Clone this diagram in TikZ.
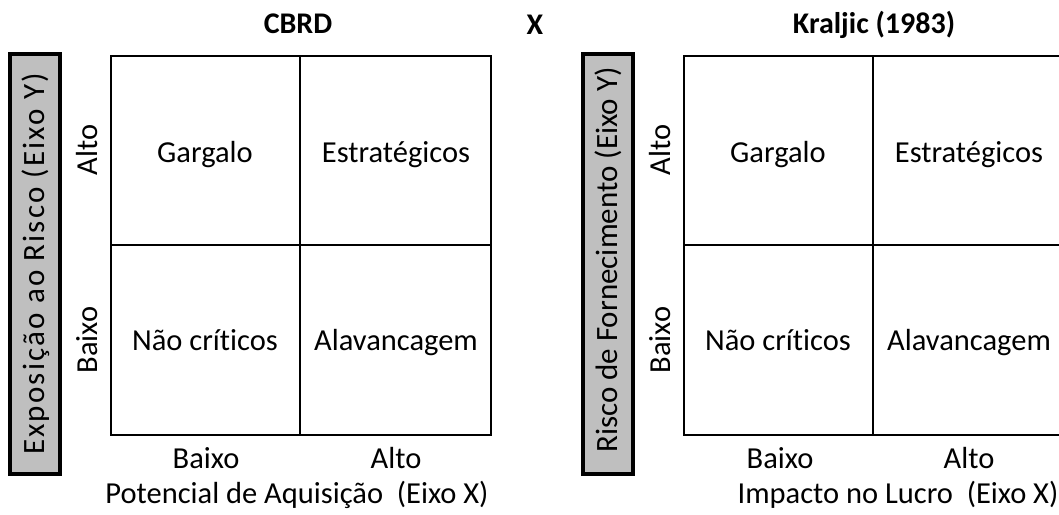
\documentclass[tikz,border=0pt]{standalone}
\usepackage{fontspec}
\setmainfont{Carlito}[Ligatures=NoCommon]
\begin{document}
\begin{tikzpicture}[x=1pt,y=-1pt,
  txt/.style={font=\fontsize{30.5}{34}\selectfont, inner sep=0pt, anchor=base},
  rtxt/.style={font=\fontsize{31}{35}\selectfont, inner sep=0pt, rotate=90, anchor=base},
  ttl/.style={font=\fontsize{30}{34}\selectfont\bfseries, inner sep=0pt, anchor=base},
  gridline/.style={line width=2pt, black},
  axisbox/.style={draw=black, line width=4pt, fill=black!25, minimum width=50pt, minimum height=420pt, inner sep=0pt}]
\useasboundingbox (0,0) rectangle (1059,514);
\clip (0,0) rectangle (1059,514);
% titles
\node[ttl] (t1) at (298,33) {CBRD};
\node[ttl] (tx) at (535,34) {X};
\node[ttl] (t2) at (874,33) {Kraljic (1983)};
% gray axis boxes
\node[axisbox] (yb1) at (35,264) {};
\node[rtxt] (yl1) at (44,264) {\addfontfeature{LetterSpace=7}Exposição ao Risco (Eixo Y)};
\node[axisbox] (yb2) at (607.5,264) {};
\node[rtxt] (yl2) at (617,260) {Risco de Fornecimento (Eixo Y)};
% left grid
\draw[gridline] (111,56) rectangle (491,435);
\draw[gridline] (300,56) -- (300,435);
\draw[gridline] (111,245) -- (491,245);
% right grid
\draw[gridline] (684,56) rectangle (1063,435);
\draw[gridline] (873,56) -- (873,435);
\draw[gridline] (684,245) -- (1063,245);
% left labels
\node[txt, rotate=90] (la1) at (97,150) {Alto};
\node[txt, rotate=90] (lb1) at (97,340) {Baixo};
\node[txt] (c11) at (205,162) {Gargalo};
\node[txt] (c12) at (396,162) {Estratégicos};
\node[txt] (c21) at (205,350) {Não críticos};
\node[txt] (c22) at (396,350) {Alavancagem};
\node[txt] (xb1) at (206,468) {Baixo};
\node[txt] (xa1) at (396,468) {Alto};
\node[txt] (xl1) at (297,503) {Potencial de Aquisição\ \ (Eixo X)};
% right labels
\node[txt, rotate=90] (la2) at (670,150) {Alto};
\node[txt, rotate=90] (lb2) at (670,340) {Baixo};
\node[txt] (d11) at (778,162) {Gargalo};
\node[txt] (d12) at (969,162) {Estratégicos};
\node[txt] (d21) at (778,350) {Não críticos};
\node[txt] (d22) at (969,350) {Alavancagem};
\node[txt] (xb2) at (780,468) {Baixo};
\node[txt] (xa2) at (969,468) {Alto};
\node[txt] (xl2) at (898,503) {Impacto no Lucro\ \ (Eixo X)};
\end{tikzpicture}
\end{document}
